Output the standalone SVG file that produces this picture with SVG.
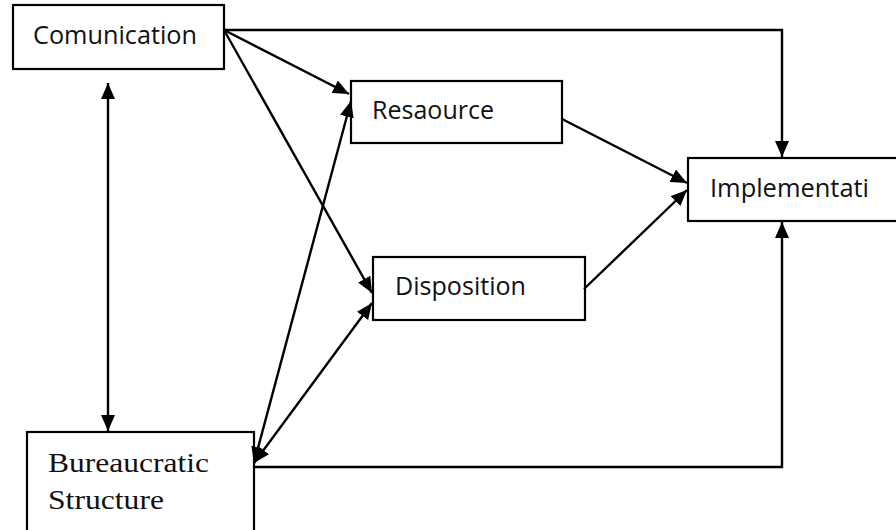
<svg xmlns="http://www.w3.org/2000/svg" width="896" height="530" viewBox="0 0 896 530">
<style>
.box{fill:#fff;stroke:#000;stroke-width:2.2}
.lbl{font-family:"Open Sans","Noto Sans",sans-serif;font-size:25px;fill:#111}
.ser{font-family:"Liberation Serif","Times New Roman",serif;font-size:28px;fill:#111}
.con{fill:none;stroke:#000;stroke-width:2.4}
</style>
<defs>
<marker id="ah" markerUnits="userSpaceOnUse" markerWidth="18" markerHeight="14" refX="16" refY="7" orient="auto-start-reverse">
<path d="M0,0 L16,7 L0,14 z" fill="#000"/>
</marker>
</defs>
<rect width="896" height="530" fill="#fff"/>
<g id="comunication">
<rect class="box" x="13" y="5" width="211" height="64"/>
<text class="lbl" x="33" y="44" textLength="164" lengthAdjust="spacingAndGlyphs">Comunication</text>
</g>
<g id="resaource">
<rect class="box" x="351" y="81" width="211" height="62"/>
<text class="lbl" x="372" y="119" textLength="122" lengthAdjust="spacingAndGlyphs">Resaource</text>
</g>
<g id="disposition">
<rect class="box" x="373" y="257" width="212" height="63"/>
<text class="lbl" x="395" y="295" textLength="131" lengthAdjust="spacingAndGlyphs">Disposition</text>
</g>
<g id="implementation">
<rect class="box" x="688" y="158" width="220" height="63"/>
<text class="lbl" x="710" y="197" textLength="159" lengthAdjust="spacingAndGlyphs">Implementati</text>
</g>
<g id="bureaucratic">
<rect class="box" x="27" y="432" width="227" height="110"/>
<text class="ser" x="48" y="472" textLength="161" lengthAdjust="spacingAndGlyphs">Bureaucratic</text>
<text class="ser" x="48" y="509" textLength="116" lengthAdjust="spacingAndGlyphs">Structure</text>
</g>
<g id="connectors">
<line class="con" x1="108" y1="83" x2="108" y2="431" marker-start="url(#ah)" marker-end="url(#ah)"/>
<line class="con" x1="224" y1="30" x2="349" y2="94" marker-end="url(#ah)"/>
<line class="con" x1="224" y1="30" x2="372" y2="293" marker-end="url(#ah)"/>
<polyline class="con" points="224,30 782,30 782,157" marker-end="url(#ah)"/>
<line class="con" x1="254" y1="463" x2="351" y2="101" marker-start="url(#ah)" marker-end="url(#ah)"/>
<line class="con" x1="254" y1="463" x2="372" y2="303" marker-start="url(#ah)" marker-end="url(#ah)"/>
<line class="con" x1="562" y1="119" x2="687" y2="183" marker-end="url(#ah)"/>
<line class="con" x1="584" y1="289" x2="687" y2="190" marker-end="url(#ah)"/>
<polyline class="con" points="254,467 782,467 782,222" marker-end="url(#ah)"/>
</g>
</svg>
